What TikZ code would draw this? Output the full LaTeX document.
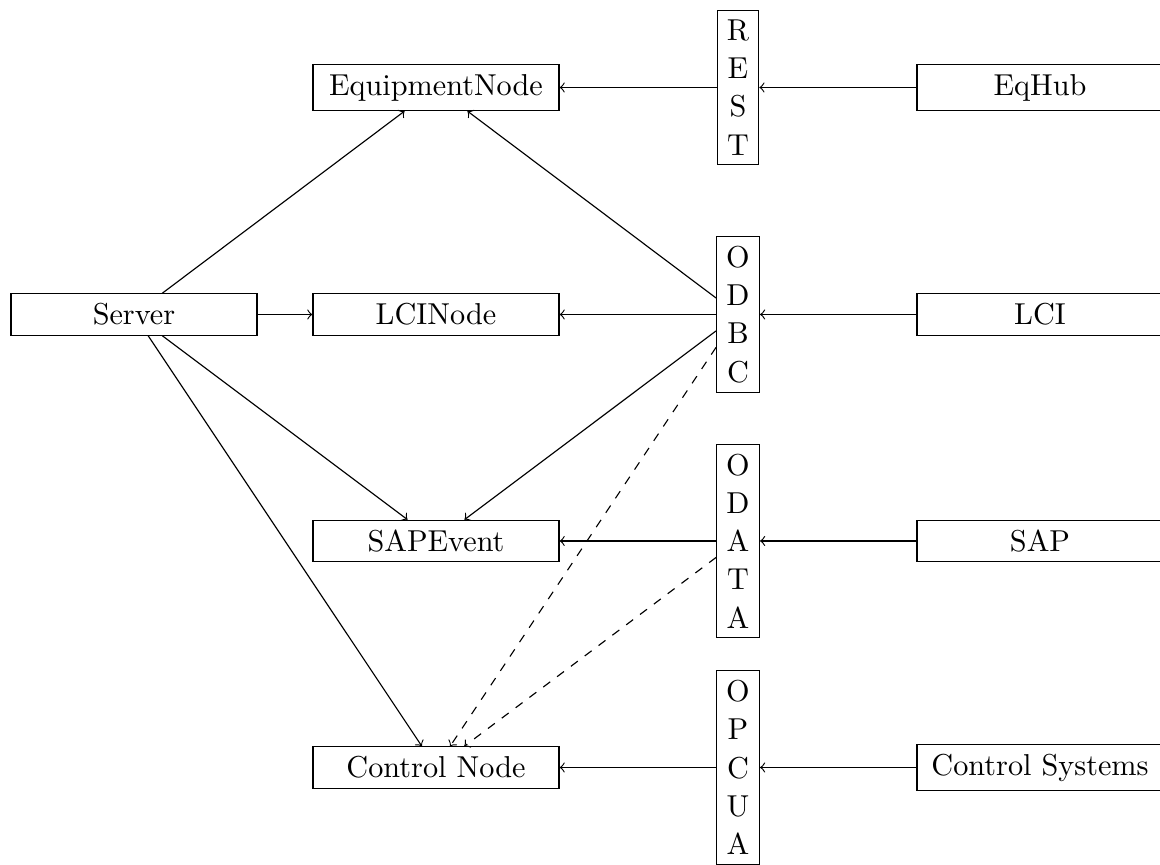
\documentclass[tikz,border=0pt]{standalone}
\begin{document}
\begin{tikzpicture}[x=0.3472pt,y=-0.3472pt,
  box/.style={draw, rectangle, minimum width=85.4pt, font=\fontsize{10.5}{12.6}\selectfont},
  proto/.style={draw, rectangle, align=center, font=\fontsize{10.5}{13.3}\selectfont},
  flow/.style={->},
  weak/.style={->, dashed}]
\useasboundingbox (0,0) rectangle (1160,865);

% application side
\node[box] (server)  at (134,314.5)  {Server};
\node[box] (eqnode)  at (436,87.5)   {EquipmentNode};
\node[box] (lcinode) at (436,314.5)  {LCINode};
\node[box] (sapev)   at (436,541)    {SAPEvent};
\node[box] (ctrl)    at (436,767.5)  {Control Node};

% protocols
\node[proto] (rest)  at (738,87.5)  {R\\E\\S\\T};
\node[proto] (odbc)  at (738,314.5) {O\\D\\B\\C};
\node[proto] (odata) at (738,541)   {O\\D\\A\\T\\A};
\node[proto] (opcua) at (738,767.5) {O\\P\\C\\U\\A};

% source systems
\node[box] (eqhub)  at (1040,87.5)  {EqHub};
\node[box] (lci)    at (1040,314.5) {LCI};
\node[box] (sap)    at (1040,541)   {SAP};
\node[box] (ctrlsys) at (1040,767.5) {Control Systems};

% source systems into protocols
\draw[flow] (eqhub) -- (rest);
\draw[flow] (lci) -- (odbc);
\draw[flow] (sap) -- (odata);
\draw[flow] (ctrlsys) -- (opcua);

% protocols into nodes
\draw[flow] (rest) -- (eqnode);
\draw[flow] (odbc) -- (eqnode);
\draw[flow] (odbc) -- (lcinode);
\draw[flow] (odbc) -- (sapev);
\draw[weak] (odbc) -- (ctrl);
\draw[flow] (odata) -- (sapev);
\draw[weak] (odata) -- (ctrl);
\draw[flow] (opcua) -- (ctrl);

% server to nodes
\draw[flow] (server) -- (eqnode);
\draw[flow] (server) -- (lcinode);
\draw[flow] (server) -- (sapev);
\draw[flow] (server) -- (ctrl);
\end{tikzpicture}
\end{document}
